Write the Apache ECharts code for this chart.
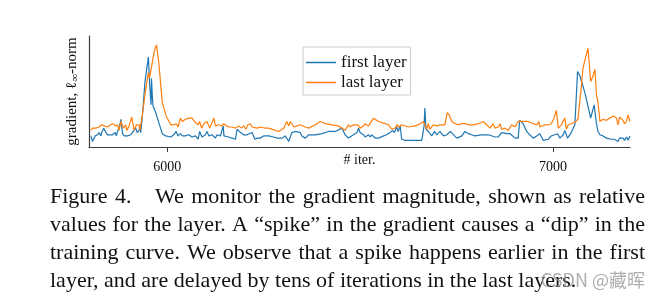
<!DOCTYPE html>
<html><head><meta charset="utf-8">
<script src="https://cdn.jsdelivr.net/npm/echarts@6/dist/echarts.min.js"></script>
<style>html,body{margin:0;padding:0;background:#fff}#c{width:659px;height:305px}</style>
</head><body><div id="c"></div>
<script>
const seriesNames = ['first layer', 'last layer'];
const xTicks = [6000, 7000];
const xName = '# iter.';

const firstIter = [5802,5806,5813,5819,5823,5828,5830,5835,5841,5845,5849,5858,5865,5868,5871,5877,5880,5884,5888,5897,5905,5909,5918,5922,5927,5929,5931,5935,5942,5947,5951,5954,5958,5959,5961,5963,5970,5978,5987,5996,6009,6017,6023,6028,6034,6039,6047,6056,6064,6073,6080,6084,6090,6099,6103,6108,6116,6125,6129,6138,6142,6145,6147,6159,6168,6177,6181,6190,6198,6207,6211,6220,6227,6233,6241,6250,
6263,6276,6285,6298,6306,6315,6323,6332,6345,6349,6358,6367,6384,6401,6418,6436,6453,6461,6470,6483,6492,6496,6500,6505,6509,6513,6522,6526,6530,6539,6548,6561,6569,6578,6584,6589,6595,6599,6604,6608,6617,6634,6660,6666,6668,6671,6677,6686,6693,6699,6707,6716,6725,6734,
6738,6745,6751,6764,6772,6781,6789,6798,6815,6833,6850,6858,6867,6880,6889,6902,6910,6914,6923,6932,6940,6949,6958,6966,6975,6988,6996,7005,7012,7018,7027,7031,7038,7046,7057,7064,7070,7083,7098,7107,7113,7117,7122,7130,7139,7152,7160,7169,7173,7182,7186,7191,7195,7200];
const firstVal = [0.10,0.05,0.10,0.11,0.13,0.10,0.13,0.17,0.13,0.11,0.10,0.11,0.13,0.10,0.14,0.20,0.25,0.12,0.10,0.10,0.11,0.11,0.17,0.13,0.15,0.20,0.13,0.26,0.58,0.71,0.81,0.58,0.38,0.62,0.47,0.37,0.31,0.22,0.12,0.10,0.09,0.11,0.14,0.10,0.12,0.10,0.10,0.11,0.09,0.10,0.07,0.14,0.09,0.11,0.14,0.10,0.11,0.08,0.11,0.10,0.11,0.19,0.10,0.09,0.08,0.07,0.16,0.13,0.11,0.11,0.10,0.13,0.07,0.08,0.08,0.10,
0.10,0.09,0.08,0.08,0.10,0.05,0.13,0.14,0.13,0.10,0.08,0.11,0.11,0.12,0.14,0.14,0.17,0.11,0.08,0.11,0.13,0.17,0.13,0.14,0.11,0.09,0.11,0.09,0.11,0.08,0.08,0.10,0.11,0.13,0.15,0.13,0.18,0.14,0.19,0.07,0.06,0.06,0.06,0.19,0.35,0.16,0.14,0.10,0.14,0.11,0.14,0.10,0.11,0.14,
0.14,0.10,0.08,0.10,0.14,0.12,0.11,0.10,0.11,0.11,0.09,0.09,0.13,0.12,0.12,0.08,0.08,0.24,0.21,0.14,0.11,0.08,0.10,0.12,0.06,0.07,0.10,0.11,0.12,0.08,0.11,0.15,0.08,0.12,0.20,0.68,0.64,0.49,0.26,0.38,0.21,0.14,0.11,0.10,0.08,0.07,0.07,0.05,0.08,0.08,0.06,0.09,0.06,0.10];

const lastIter = [5802,5806,5815,5823,5830,5836,5845,5853,5859,5865,5871,5875,5880,5886,5892,5895,5901,5908,5914,5920,5927,5929,5935,5944,5951,5954,5961,5966,5972,5978,5987,5997,6009,6017,6023,6028,6034,6039,6047,6056,6064,6073,6080,6084,6089,6095,6099,6103,6110,6116,6121,6125,6133,6142,6146,6151,6159,6168,6177,6185,6192,6198,6204,6209,6215,6220,6224,6233,6241,6246,6254,
6263,6280,6289,6302,6310,6315,6319,6328,6336,6345,6349,6358,6367,6384,6397,6410,6427,6444,6453,6461,6470,6474,6483,6494,6500,6509,6513,6522,6535,6548,6565,6574,6582,6591,6595,6601,6608,6625,6643,6656,6664,6668,6673,6677,6681,6690,6699,6707,6720,6726,6731,
6738,6746,6755,6764,6772,6781,6794,6807,6820,6828,6837,6845,6850,6858,6863,6867,6876,6884,6893,6902,6910,6914,6923,6936,6949,6958,6964,6966,6979,6988,6996,7003,7009,7014,7022,7031,7035,7040,7048,7059,7065,7074,7078,7083,7091,7098,7104,7109,7113,7117,7122,7130,7139,7147,7152,7158,7165,7169,7173,7178,7182,7186,7191,7195,7200];
const lastVal = [0.15,0.17,0.17,0.18,0.20,0.19,0.18,0.20,0.21,0.19,0.20,0.15,0.23,0.17,0.20,0.15,0.19,0.27,0.15,0.20,0.20,0.15,0.28,0.52,0.67,0.62,0.76,0.86,0.92,0.76,0.40,0.28,0.20,0.20,0.21,0.18,0.26,0.23,0.25,0.26,0.26,0.22,0.20,0.23,0.17,0.21,0.20,0.23,0.17,0.22,0.26,0.19,0.20,0.19,0.21,0.20,0.18,0.18,0.17,0.19,0.17,0.19,0.16,0.20,0.21,0.18,0.17,0.17,0.18,0.19,0.17,
0.17,0.15,0.14,0.17,0.23,0.19,0.23,0.18,0.19,0.20,0.20,0.18,0.17,0.20,0.23,0.21,0.20,0.19,0.17,0.15,0.20,0.18,0.20,0.20,0.17,0.19,0.21,0.19,0.26,0.23,0.21,0.20,0.16,0.17,0.20,0.18,0.20,0.18,0.19,0.21,0.23,0.20,0.16,0.21,0.16,0.20,0.19,0.20,0.20,0.31,0.29,
0.23,0.21,0.20,0.21,0.21,0.20,0.20,0.21,0.23,0.20,0.17,0.21,0.17,0.18,0.21,0.16,0.17,0.15,0.20,0.18,0.23,0.23,0.23,0.23,0.21,0.20,0.23,0.18,0.20,0.20,0.21,0.26,0.33,0.17,0.20,0.26,0.16,0.20,0.21,0.23,0.25,0.55,0.71,0.78,0.89,0.59,0.64,0.70,0.47,0.40,0.23,0.25,0.24,0.26,0.26,0.28,0.26,0.20,0.27,0.26,0.24,0.21,0.23,0.29,0.23];

const captionLines = [
  'Figure 4. We monitor the gradient magnitude, shown as relative',
  'values for the layer. A \u201cspike\u201d in the gradient causes a \u201cdip\u201d in the',
  'training curve. We observe that a spike happens earlier in the first',
  'layer, and are delayed by tens of iterations in the last layers.'
];
const watermark = 'CSDN @藏晖';

const serif = '"Liberation Serif", "DejaVu Serif", serif';
const capFont = '22px ' + serif;
const ctx = document.createElement('canvas').getContext('2d');
ctx.font = capFont;
const capLeft = 50, capRight = 645, capY = [197, 225, 253, 281];
const graphics = [];
captionLines.forEach((line, i) => {
  const words = line.split(' ');
  const widths = words.map(w => ctx.measureText(w).width);
  const total = widths.reduce((a, b) => a + b, 0);
  const extra = i === 0 ? 16 : 0;
  const justify = i < captionLines.length - 1;
  let gap = justify ? (capRight - capLeft - total - extra) / (words.length - 1) : ctx.measureText(' ').width;
  gap = Math.max(gap, 3);
  let x = capLeft;
  words.forEach((w, j) => {
    graphics.push({type: 'text', x: x, y: capY[i], silent: true,
      style: {text: w, font: capFont, fill: '#111', verticalAlign: 'middle'}});
    x += widths[j] + gap + (i === 0 && j === 1 ? extra : 0);
  });
});
graphics.push({type: 'text', right: 14, top: 271, silent: true, z: 100,
  style: {text: watermark, font: '18px "Noto Sans CJK SC", "Noto Sans", sans-serif', fill: 'rgba(140,140,140,0.7)'}});

const chart = echarts.init(document.getElementById('c'), null, {renderer: 'canvas'});
chart.setOption({
  animation: false,
  backgroundColor: '#fff',
  grid: {left: 89, right: 29, top: 36, bottom: 158, containLabel: false},
  legend: {
    data: seriesNames, orient: 'vertical', left: 303, top: 47,
    padding: [7, 4, 4, 3], itemGap: 3, itemWidth: 30, itemHeight: 1.5, icon: 'rect',
    borderColor: '#cccccc', borderWidth: 1, backgroundColor: '#fff',
    textStyle: {fontFamily: serif, fontSize: 17, color: '#111', lineHeight: 16}
  },
  xAxis: {
    type: 'value', min: 5797, max: 7200,
    axisLine: {show: true, lineStyle: {color: '#3c3c3c', width: 1.2}},
    axisTick: {show: true, customValues: xTicks, length: 5, lineStyle: {color: '#3c3c3c'}},
    axisLabel: {customValues: xTicks, formatter: v => String(v), fontFamily: serif, fontSize: 14, color: '#111', margin: 13},
    splitLine: {show: false},
    name: xName, nameLocation: 'middle', nameGap: 6, nameMoveOverlap: false,
    nameTextStyle: {fontFamily: serif, fontSize: 14, color: '#111'}
  },
  yAxis: {
    type: 'value', min: 0, max: 1,
    axisLine: {show: true, lineStyle: {color: '#3c3c3c', width: 1.2}},
    axisTick: {show: false}, axisLabel: {show: false}, splitLine: {show: false},
    name: '{a|gradient, ℓ}{s|∞}{a|-norm}', nameLocation: 'middle', nameGap: 8, nameMoveOverlap: false,
    nameTextStyle: {rich: {
      a: {fontFamily: serif, fontSize: 15, color: '#111'},
      s: {fontFamily: serif, fontSize: 11, color: '#111', padding: [6, 0, 0, 0]}
    }}
  },
  series: [
    {name: seriesNames[0], type: 'line', symbol: 'none', data: firstIter.map((x, i) => [x, firstVal[i]]),
     lineStyle: {color: '#1f77b4', width: 1.2}, itemStyle: {color: '#1f77b4'}},
    {name: seriesNames[1], type: 'line', symbol: 'none', data: lastIter.map((x, i) => [x, lastVal[i]]),
     lineStyle: {color: '#ff7f0e', width: 1.2}, itemStyle: {color: '#ff7f0e'}}
  ],
  graphic: graphics
});
</script>
</body></html>
